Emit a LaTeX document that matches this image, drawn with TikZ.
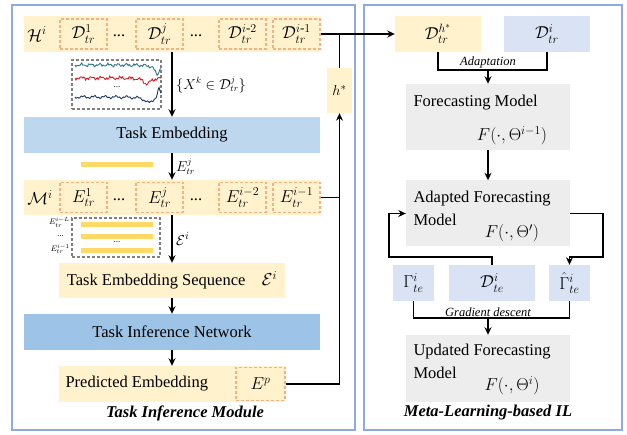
\documentclass[tikz,border=0pt]{standalone}
\usepackage{fontspec}
\setmainfont{Liberation Serif}
\usepackage{amsmath}
\usetikzlibrary{positioning, arrows.meta}

\definecolor{beige}{HTML}{FFF2CC}
\definecolor{dashorange}{HTML}{F4B183}
\definecolor{embblue}{HTML}{BDD7EE}
\definecolor{infblue}{HTML}{9DC3E6}
\definecolor{lav}{HTML}{DAE3F3}
\definecolor{lgray}{HTML}{EDEDED}
\definecolor{barcol}{HTML}{FFD966}
\definecolor{panelblue}{HTML}{8FAADC}
\definecolor{tsteal}{HTML}{2E7585}
\definecolor{tsred}{HTML}{D0202A}
\definecolor{tsnavy}{HTML}{1F3A5F}

\tikzset{
  wide/.style={minimum width=296, minimum height=36, inner sep=0},
  narrow/.style={minimum width=226, minimum height=35, inner sep=0},
  dbox/.style={draw=dashorange, dash pattern=on 3pt off 2pt, line width=1.2pt,
    minimum width=47, minimum height=30, inner sep=0, font=\fontsize{18.5}{20}\selectfont},
  tbox/.style={fill=lav, minimum height=36, inner sep=0, font=\fontsize{18.5}{20}\selectfont},
  fbox/.style={fill=lgray, minimum width=164, minimum height=66, inner sep=0},
  graybox/.style={draw=gray, dash pattern=on 3pt off 2pt, line width=1.2pt, inner sep=0},
  conn/.style={line width=1.6pt},
  panel/.style={draw=panelblue, line width=1.8pt},
  tsline/.style={line width=0.9pt, domain=0:86, samples=90},
  small/.style={font=\fontsize{12.5}{14}\selectfont\itshape},
  title/.style={font=\fontsize{16.5}{18}\selectfont\bfseries\itshape},
  mathlab/.style={font=\fontsize{13.5}{15}\selectfont},
  tiny/.style={font=\fontsize{8.5}{9}\selectfont, anchor=east, inner sep=0},
  fmath/.style={font=\fontsize{18.5}{20}\selectfont}
}

\begin{document}
\begin{tikzpicture}[x=1pt, y=-1pt, font=\fontsize{16.5}{18}\selectfont,
  >={Stealth[length=7.5pt, width=7pt]}]
\useasboundingbox (0,0) rectangle (627,435);

% Rahmen
\draw[panel] (12,5) rectangle (355,430);
\draw[panel] (364,5) rectangle (622,430);

% Task Inference Module
\node[wide, fill=beige] (Hrow) at (172,34) {};
\node[anchor=west, font=\fontsize{18.5}{20}\selectfont] (Hlab) at (Hrow.west) {$\mathcal{H}^i$};
\node[dbox] (D1) at (83.5,34) {$\mathcal{D}_{tr}^{1}$};
\node (dotsA) at (119,36) {...};
\node[dbox] (Dj) at (159.5,34) {$\mathcal{D}_{tr}^{j}$};
\node (dotsB) at (196,36) {...};
\node[dbox] (Di2) at (242.5,34) {$\mathcal{D}_{tr}^{i\text{-}2}$};
\node[dbox] (Di1) at (296.5,34) {$\mathcal{D}_{tr}^{i\text{-}1}$};

\node[graybox, minimum width=89, minimum height=49] (tsbox) at (116.5,84.5) {};
\draw[tsline, tsteal] plot ({75+\x}, {65+1.0*sin(\x*40)+0.7*sin(\x*97)+0.5*sin(\x*151)+9/(1+((\x-82)/3)^2)});
\draw[tsline, tsred] plot ({75+\x}, {78+1.0*sin(\x*37+20)+0.8*sin(\x*111)+0.5*sin(\x*143)+6/(1+((\x-72)/4)^2)});
\draw[tsline, tsnavy] plot ({75+\x}, {97+1.0*sin(\x*33)+0.7*sin(\x*103)+6/(1+((\x-74)/5)^2)-10/(1+((\x-84)/1.5)^2)});
\node[font=\small] (tsdots) at (117,87) {...};

\node[wide, fill=embblue] (temb) at (172,135) {Task Embedding};
\draw[conn, ->] (Hrow.south) -- node[right, mathlab] {$\{X^k \in \mathcal{D}_{tr}^{j}\}$} (temb.north);
\fill[barcol] (81,162) rectangle (153,167);

\node[wide, fill=beige, minimum height=35] (Mrow) at (172,197.5) {};
\node[anchor=west, font=\fontsize{18.5}{20}\selectfont] (Mlab) at (Mrow.west) {$\mathcal{M}^i$};
\node[dbox] (E1) at (83.5,197.5) {$E_{tr}^{1}$};
\node (dotsC) at (119,199.5) {...};
\node[dbox] (Ej) at (159.5,197.5) {$E_{tr}^{j}$};
\node (dotsD) at (196,199.5) {...};
\node[dbox] (Ei2) at (242.5,197.5) {$E_{tr}^{i-2}$};
\node[dbox] (Ei1) at (296.5,197.5) {$E_{tr}^{i-1}$};
\draw[conn, ->] (temb.south) -- node[right, mathlab] {$E_{tr}^{j}$} (Mrow.north);

\node[graybox, minimum width=88, minimum height=39] (seqbox) at (116,237.5) {};
\fill[barcol] (81,222) rectangle (153,227);
\fill[barcol] (81,234) rectangle (153,239);
\fill[barcol] (81,248) rectangle (153,253);
\node[font=\small] (seqdots) at (117,242) {...};
\node[tiny] (sL) at (70,222) {$E_{tr}^{i-L}$};
\node[tiny] (sdots) at (64,236) {...};
\node[tiny] (s1) at (70,249) {$E_{tr}^{i-1}$};

\node[narrow, fill=beige] (tseq) at (172,280.5) {Task Embedding Sequence\quad$\mathcal{E}^i$};
\draw[conn, ->] (Mrow.south) -- node[right, font=\fontsize{15}{17}\selectfont] {$\mathcal{E}^i$} (tseq.north);
\node[wide, fill=infblue] (tinf) at (172,332) {Task Inference Network};
\draw[conn, ->] (tseq) -- (tinf);
\node[narrow, fill=beige, minimum height=36] (pemb) at (172,384) {};
\node[anchor=west] (ptext) at (62,384) {Predicted Embedding};
\node[dbox, minimum width=49, minimum height=33] (Ep) at (260.5,384) {$E^p$};
\draw[conn, ->] (tinf) -- (pemb);
\node[title] (timlab) at (185,413) {Task Inference Module};

\node[fill=beige, minimum width=25, minimum height=45, inner sep=0,
  font=\fontsize{15}{17}\selectfont] (hstar) at (339.5,90.5) {$h^*$};

% Meta-Learning-based IL
\node[tbox, fill=beige, minimum width=86] (Dhs) at (438,34) {$\mathcal{D}_{tr}^{h^*}$};
\node[tbox, minimum width=86] (Dtri) at (547,34) {$\mathcal{D}_{tr}^{i}$};

\draw[conn, ->] (Ep.east) -| (hstar.south);
\draw[conn] (Ei1.east) -- (Ei1.east -| hstar.south);
\draw[conn] (hstar.north) -- (hstar.north |- Di1.east);
\draw[conn, ->] (Di1.east) -- (Dhs.west);

\node[fbox] (fm) at (488,117) {};
\node[anchor=west] (fmtext) at (410,103) {Forecasting Model};
\node[fmath] (fmF) at (512,136) {$F(\cdot,\Theta^{i-1})$};
\coordinate (adapt) at (488,70);
\draw[conn] (Dhs.south) |- (adapt) -| (Dtri.south);
\draw[conn, ->] (adapt) -- (fm.north);
\node[small, above, inner sep=1.5pt] (adlab) at (adapt) {Adaptation};

\node[fbox] (afm) at (488,213.5) {};
\node[anchor=west] (afmtext) at (410,199) {Adapted Forecasting};
\node[anchor=west] (afmtext2) at (410,220) {Model};
\node[fmath] (afmF) at (512,233) {$F(\cdot,\Theta')$};
\draw[conn, ->] (fm) -- (afm);

\node[tbox, minimum width=41] (gam) at (413.5,283) {$\Gamma_{te}^{i}$};
\node[tbox, minimum width=86] (dte) at (492,283) {$\mathcal{D}_{te}^{i}$};
\node[tbox, minimum width=41] (ghat) at (569.5,283) {$\hat{\Gamma}_{te}^{i}$};

\coordinate (loopL) at (389,257);
\coordinate (loopR) at (603,257);
\draw[conn, ->] (dte.north) |- (loopL) |- (afm.west);
\draw[conn, ->] (afm.east) -| (loopR) -| (ghat.north);

\node[fbox, minimum height=67] (ufm) at (488,368.5) {};
\node[anchor=west] (ufmtext) at (410,352) {Updated Forecasting};
\node[anchor=west] (ufmtext2) at (410,373) {Model};
\node[fmath] (ufmF) at (512,386) {$F(\cdot,\Theta^{i})$};
\coordinate (grad) at (488,318);
\draw[conn] (gam.south) |- (grad) -| (ghat.south);
\draw[conn, ->] (grad) -- (ufm.north);
\node[small, above, inner sep=1.5pt] (gdlab) at (grad) {Gradient descent};

\node[title] (mllab) at (488,413) {Meta-Learning-based IL};
\end{tikzpicture}
\end{document}
